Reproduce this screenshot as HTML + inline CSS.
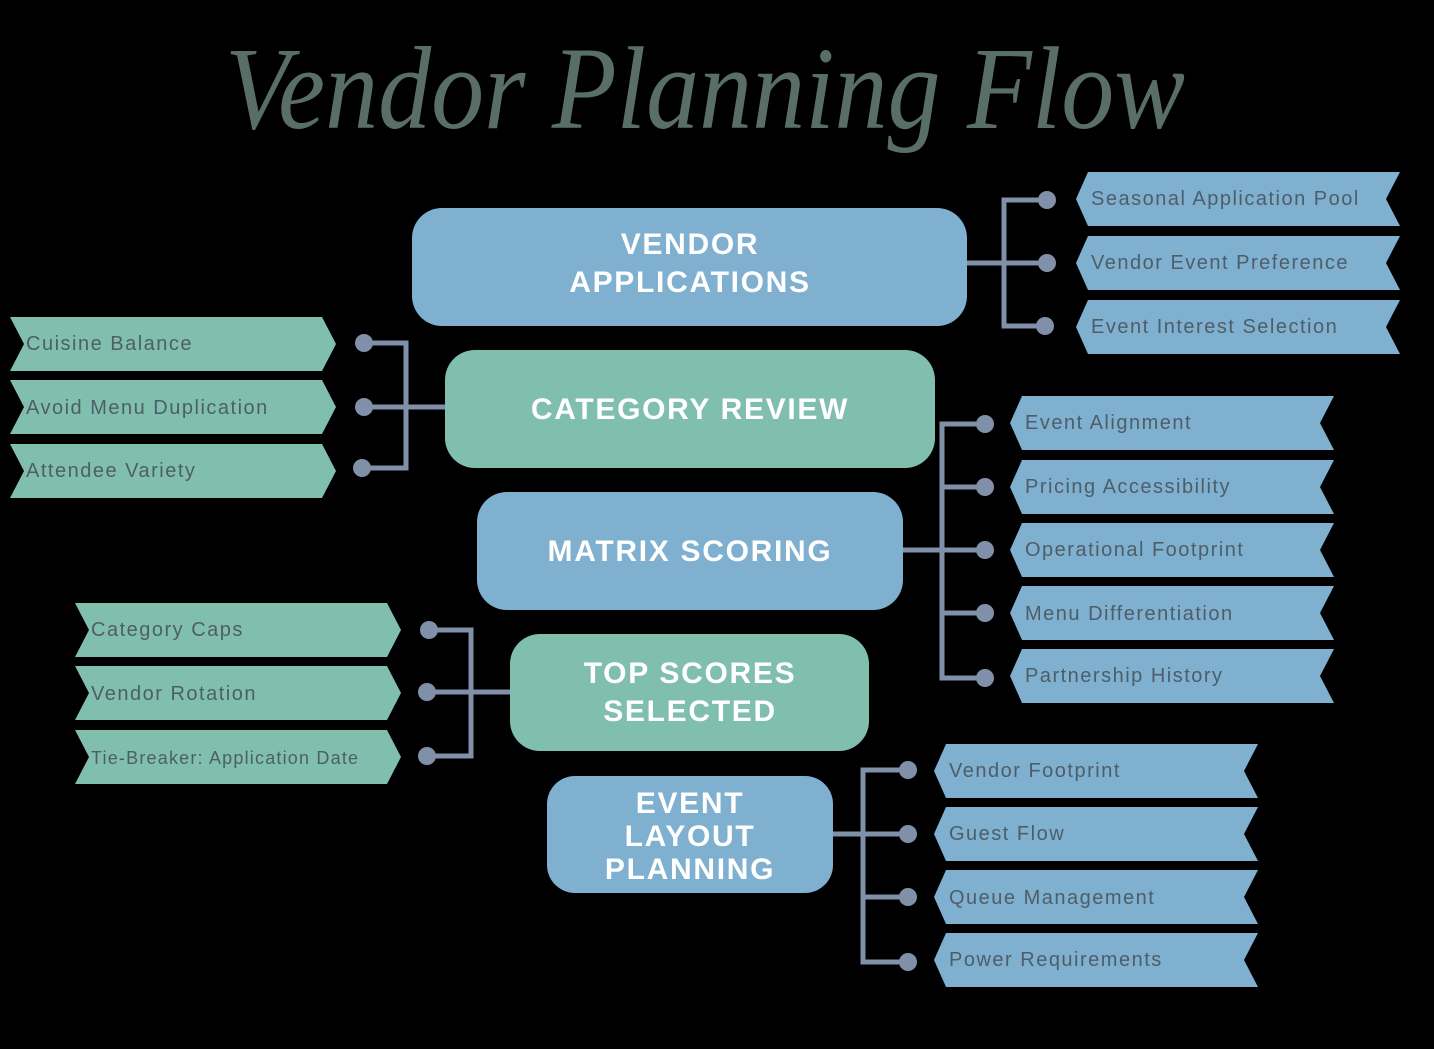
<!DOCTYPE html>
<html><head><meta charset="utf-8"><style>
html,body{margin:0;padding:0;background:#000;}
svg{display:block}
.bt{font-family:"Liberation Sans",sans-serif;font-weight:bold;fill:#fff;font-size:30px;letter-spacing:1.7px;text-anchor:middle}
.rt{font-family:"Liberation Sans",sans-serif;fill:#4e5e68;font-size:20px;letter-spacing:1.5px}
.ln{stroke:#8090a8;stroke-width:5;fill:none}
.dt{fill:#8090a8}
</style></head><body>
<svg width="1434" height="1049" viewBox="0 0 1434 1049" xmlns="http://www.w3.org/2000/svg">
<rect width="1434" height="1049" fill="#000"/>
<text x="705" y="128" text-anchor="middle" font-family="Liberation Serif, serif" font-style="italic" font-size="118" fill="#5a6e68" textLength="960" lengthAdjust="spacingAndGlyphs">Vendor Planning Flow</text>

<rect x="412" y="208" width="555" height="118" rx="30" fill="#7fb0cf"/>
<text class="bt" x="690" y="254">VENDOR</text>
<text class="bt" x="690" y="292">APPLICATIONS</text>
<rect x="445" y="350" width="490" height="118" rx="30" fill="#80bfae"/>
<text class="bt" x="690" y="419">CATEGORY REVIEW</text>
<rect x="477" y="492" width="426" height="118" rx="30" fill="#7fb0cf"/>
<text class="bt" x="690" y="561">MATRIX SCORING</text>
<rect x="510" y="634" width="359" height="117" rx="30" fill="#80bfae"/>
<text class="bt" x="690" y="683">TOP SCORES</text>
<text class="bt" x="690" y="721">SELECTED</text>
<rect x="547" y="776" width="286" height="117" rx="28" fill="#7fb0cf"/>
<text class="bt" x="690" y="813">EVENT</text>
<text class="bt" x="690" y="846">LAYOUT</text>
<text class="bt" x="690" y="879">PLANNING</text>

<path class="ln" d="M967 263H1047 M1047 200H1004V326H1047"/>
<circle class="dt" cx="1047" cy="200" r="9"/><circle class="dt" cx="1047" cy="263" r="9"/><circle class="dt" cx="1045" cy="326" r="9"/>
<path class="ln" d="M445 407H364 M364 343H406V468H364"/>
<circle class="dt" cx="364" cy="343" r="9"/><circle class="dt" cx="364" cy="407" r="9"/><circle class="dt" cx="362" cy="468" r="9"/>
<path class="ln" d="M903 550H985 M985 424H942V678H985 M942 487H985 M942 613H985"/>
<circle class="dt" cx="985" cy="424" r="9"/><circle class="dt" cx="985" cy="487" r="9"/><circle class="dt" cx="985" cy="550" r="9"/><circle class="dt" cx="985" cy="613" r="9"/><circle class="dt" cx="985" cy="678" r="9"/>
<path class="ln" d="M510 692H429 M429 630H471V756H429"/>
<circle class="dt" cx="429" cy="630" r="9"/><circle class="dt" cx="427" cy="692" r="9"/><circle class="dt" cx="427" cy="756" r="9"/>
<path class="ln" d="M833 834H908 M908 770H863V962H908 M863 897H908"/>
<circle class="dt" cx="908" cy="770" r="9"/><circle class="dt" cx="908" cy="834" r="9"/><circle class="dt" cx="908" cy="897" r="9"/><circle class="dt" cx="908" cy="962" r="9"/>

<g fill="#7fb0cf">
<polygon points="1088,172 1400,172 1386,199 1400,226 1088,226 1076,199"/>
<polygon points="1088,236 1400,236 1386,263 1400,290 1088,290 1076,263"/>
<polygon points="1088,300 1400,300 1386,327 1400,354 1088,354 1076,327"/>
<polygon points="1022,396 1334,396 1320,423 1334,450 1022,450 1010,423"/>
<polygon points="1022,460 1334,460 1320,487 1334,514 1022,514 1010,487"/>
<polygon points="1022,523 1334,523 1320,550 1334,577 1022,577 1010,550"/>
<polygon points="1022,586 1334,586 1320,613 1334,640 1022,640 1010,613"/>
<polygon points="1022,649 1334,649 1320,676 1334,703 1022,703 1010,676"/>
<polygon points="946,744 1258,744 1244,771 1258,798 946,798 934,771"/>
<polygon points="946,807 1258,807 1244,834 1258,861 946,861 934,834"/>
<polygon points="946,870 1258,870 1244,897 1258,924 946,924 934,897"/>
<polygon points="946,933 1258,933 1244,960 1258,987 946,987 934,960"/>
</g>
<g fill="#80bfae">
<polygon points="10,317 322,317 336,344 322,371 10,371 24,344"/>
<polygon points="10,380 322,380 336,407 322,434 10,434 24,407"/>
<polygon points="10,444 322,444 336,471 322,498 10,498 24,471"/>
<polygon points="75,603 387,603 401,630 387,657 75,657 89,630"/>
<polygon points="75,666 387,666 401,693 387,720 75,720 89,693"/>
<polygon points="75,730 387,730 401,757 387,784 75,784 89,757"/>
</g>

<g class="rt">
<text x="1091" y="205">Seasonal Application Pool</text>
<text x="1091" y="269">Vendor Event Preference</text>
<text x="1091" y="333">Event Interest Selection</text>
<text x="1025" y="429">Event Alignment</text>
<text x="1025" y="493">Pricing Accessibility</text>
<text x="1025" y="556">Operational Footprint</text>
<text x="1025" y="620">Menu Differentiation</text>
<text x="1025" y="682">Partnership History</text>
<text x="949" y="777">Vendor Footprint</text>
<text x="949" y="840">Guest Flow</text>
<text x="949" y="904">Queue Management</text>
<text x="949" y="966">Power Requirements</text>
<text x="26" y="350">Cuisine Balance</text>
<text x="26" y="414">Avoid Menu Duplication</text>
<text x="26" y="477">Attendee Variety</text>
<text x="91" y="636">Category Caps</text>
<text x="91" y="700">Vendor Rotation</text>
<text x="91" y="764" font-size="18" letter-spacing="1.2">Tie-Breaker: Application Date</text>
</g>
</svg>
</body></html>
